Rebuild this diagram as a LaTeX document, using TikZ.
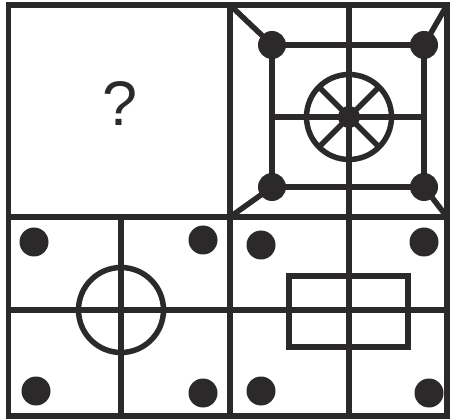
\documentclass[tikz,border=0pt]{standalone}
\usepackage{fontspec}
\setmainfont{Liberation Sans}
\definecolor{ink}{RGB}{43,41,41}
\begin{document}
\begin{tikzpicture}[x=1pt, y=-1pt,
  bar/.style={draw=ink, line width=5.5pt},
  dot/.style={fill=ink},
  qmark/.style={text=ink, font=\fontsize{63}{63}\selectfont, inner sep=0pt}
]
\useasboundingbox (0,0) rectangle (452,419);
% frame and quarters
\draw[bar] (8.5,5) rectangle (447,416);
\draw[bar] (230,5) -- (230,416);
\draw[bar] (8.5,217) -- (447,217);
% top left: unknown
\node[qmark] (q) at (120,104) {?};
% top right
\draw[bar] (349,5) -- (349,217);
\draw[bar] (272,45) rectangle (424,187);
\draw[bar] (272,117) -- (424,117);
\draw[bar] (230,5) -- (272,45);  \draw[bar] (447,5) -- (424,45);
\draw[bar] (230,217) -- (272,187); \draw[bar] (447,217) -- (424,187);
\draw[bar] (349,117) circle (42.5);
\draw[bar] (349,117) ++(45:42.5) -- ++(225:85);
\draw[bar] (349,117) ++(135:42.5) -- ++(315:85);
\fill[dot] (349,117) circle (11);
\foreach \px/\py in {272/45, 424/45, 272/187, 424/187}
  \fill[dot] (\px,\py) circle (14);
% bottom left
\draw[bar] (121,217) -- (121,416);
\draw[bar] (8.5,310) -- (230,310);
\draw[bar] (121,310) circle (42.5);
\foreach \px/\py in {34/242, 203/240, 36/391, 203/393}
  \fill[dot] (\px,\py) circle (14.5);
% bottom right
\draw[bar] (349,217) -- (349,416);
\draw[bar] (230,310) -- (447,310);
\draw[bar] (289,276) rectangle (408,347);
\foreach \px/\py in {261/245, 424/242, 261/391, 429/393}
  \fill[dot] (\px,\py) circle (14.5);
\end{tikzpicture}
\end{document}
